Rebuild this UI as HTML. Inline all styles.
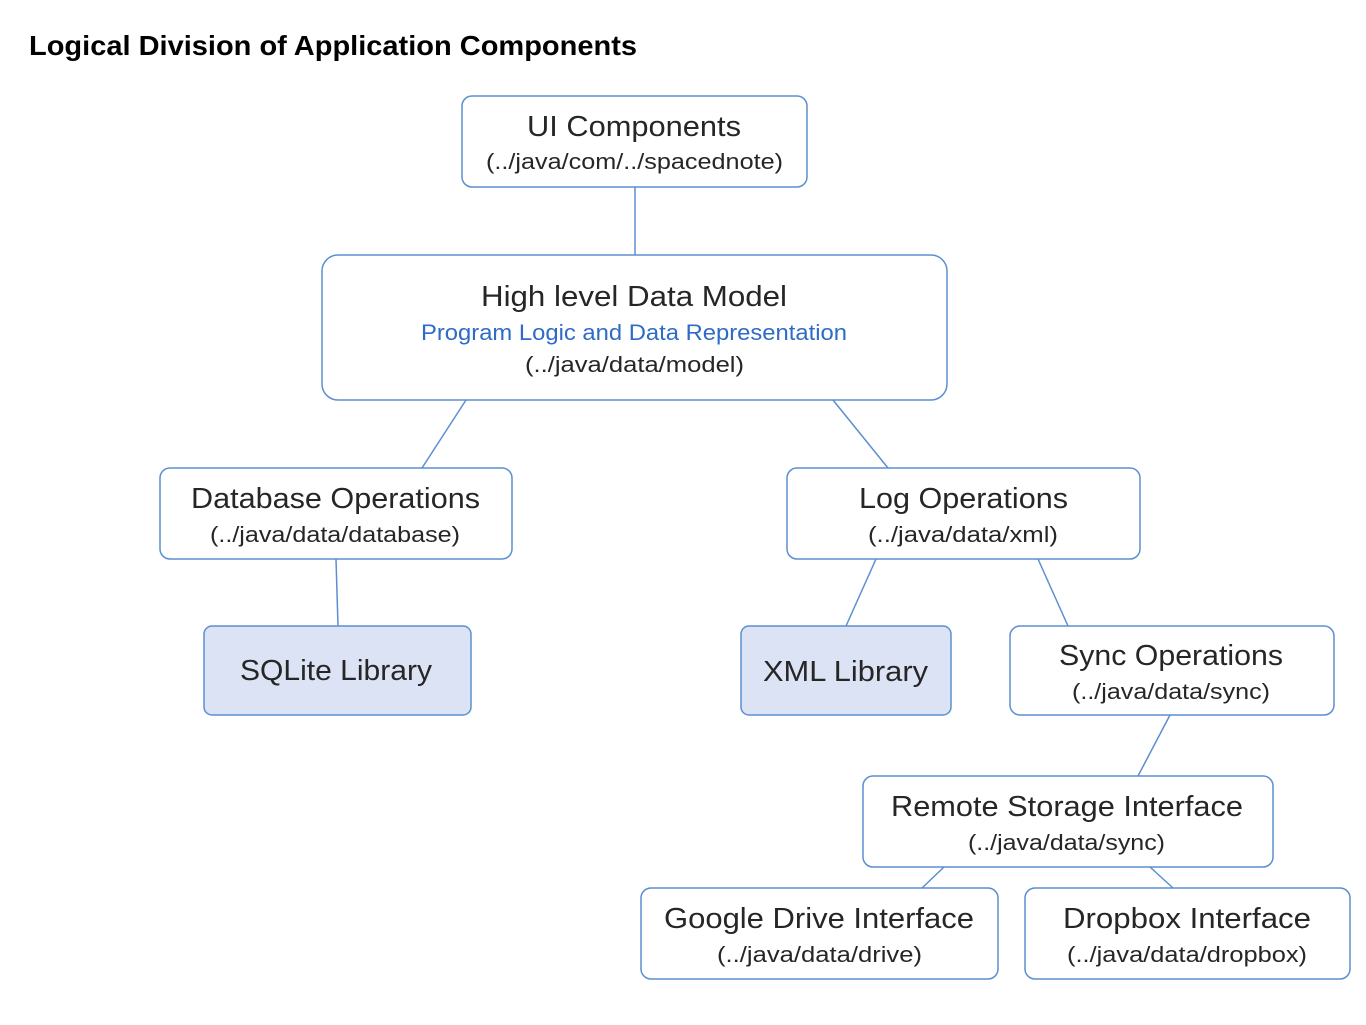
<!DOCTYPE html>
<html><head><meta charset="utf-8"><style>
html,body{margin:0;padding:0;background:#fff;}
svg{display:block;}
text{font-family:"Liberation Sans",sans-serif;fill:#262626;}
.t{font-size:29px;}
.s{font-size:22px;}
</style></head><body>
<svg width="1366" height="1025" viewBox="0 0 1366 1025" xmlns="http://www.w3.org/2000/svg">
<text x="29" y="55" style="font-size:28px;font-weight:bold;fill:#000" textLength="608" lengthAdjust="spacingAndGlyphs">Logical Division of Application Components</text>
<g stroke="#5b8fd0" stroke-width="1.5" fill="none">
<line x1="635" y1="187" x2="635" y2="255"/>
<line x1="466" y1="400" x2="422" y2="468"/>
<line x1="833" y1="400" x2="888" y2="468"/>
<line x1="336" y1="559" x2="338" y2="626"/>
<line x1="876" y1="559" x2="846" y2="626"/>
<line x1="1038" y1="559" x2="1068" y2="626"/>
<line x1="1170" y1="715" x2="1138" y2="776"/>
<line x1="944" y1="867" x2="922" y2="888"/>
<line x1="1150" y1="867" x2="1173" y2="888"/>
<rect x="462" y="96" width="345" height="91" rx="10" fill="#fff"/>
<rect x="322" y="255" width="625" height="145" rx="16" fill="#fff"/>
<rect x="160" y="468" width="352" height="91" rx="10" fill="#fff"/>
<rect x="787" y="468" width="353" height="91" rx="10" fill="#fff"/>
<rect x="204" y="626" width="267" height="89" rx="8" fill="#dce3f4"/>
<rect x="741" y="626" width="210" height="89" rx="8" fill="#dce3f4"/>
<rect x="1010" y="626" width="324" height="89" rx="10" fill="#fff"/>
<rect x="863" y="776" width="410" height="91" rx="10" fill="#fff"/>
<rect x="641" y="888" width="357" height="91" rx="10" fill="#fff"/>
<rect x="1025" y="888" width="325" height="91" rx="10" fill="#fff"/>
</g>
<g lengthAdjust="spacingAndGlyphs">
<text class="t" x="527" y="136" textLength="214" lengthAdjust="spacingAndGlyphs">UI Components</text>
<text class="s" x="486" y="169" textLength="297" lengthAdjust="spacingAndGlyphs">(../java/com/../spacednote)</text>
<text class="t" x="481" y="306" textLength="306" lengthAdjust="spacingAndGlyphs">High level Data Model</text>
<text class="s" x="421" y="340" textLength="426" lengthAdjust="spacingAndGlyphs" style="fill:#2e6bc6">Program Logic and Data Representation</text>
<text class="s" x="525" y="372" textLength="219" lengthAdjust="spacingAndGlyphs">(../java/data/model)</text>
<text class="t" x="191" y="508" textLength="289" lengthAdjust="spacingAndGlyphs">Database Operations</text>
<text class="s" x="210" y="542" textLength="250" lengthAdjust="spacingAndGlyphs">(../java/data/database)</text>
<text class="t" x="859" y="508" textLength="209" lengthAdjust="spacingAndGlyphs">Log Operations</text>
<text class="s" x="868" y="542" textLength="190" lengthAdjust="spacingAndGlyphs">(../java/data/xml)</text>
<text class="t" x="240" y="680" textLength="192" lengthAdjust="spacingAndGlyphs">SQLite Library</text>
<text class="t" x="763" y="681" textLength="165" lengthAdjust="spacingAndGlyphs">XML Library</text>
<text class="t" x="1059" y="665" textLength="224" lengthAdjust="spacingAndGlyphs">Sync Operations</text>
<text class="s" x="1072" y="699" textLength="198" lengthAdjust="spacingAndGlyphs">(../java/data/sync)</text>
<text class="t" x="891" y="816" textLength="352" lengthAdjust="spacingAndGlyphs">Remote Storage Interface</text>
<text class="s" x="968" y="850" textLength="197" lengthAdjust="spacingAndGlyphs">(../java/data/sync)</text>
<text class="t" x="664" y="928" textLength="310" lengthAdjust="spacingAndGlyphs">Google Drive Interface</text>
<text class="s" x="717" y="962" textLength="205" lengthAdjust="spacingAndGlyphs">(../java/data/drive)</text>
<text class="t" x="1063" y="928" textLength="248" lengthAdjust="spacingAndGlyphs">Dropbox Interface</text>
<text class="s" x="1067" y="962" textLength="240" lengthAdjust="spacingAndGlyphs">(../java/data/dropbox)</text>
</g>
</svg>
</body></html>
